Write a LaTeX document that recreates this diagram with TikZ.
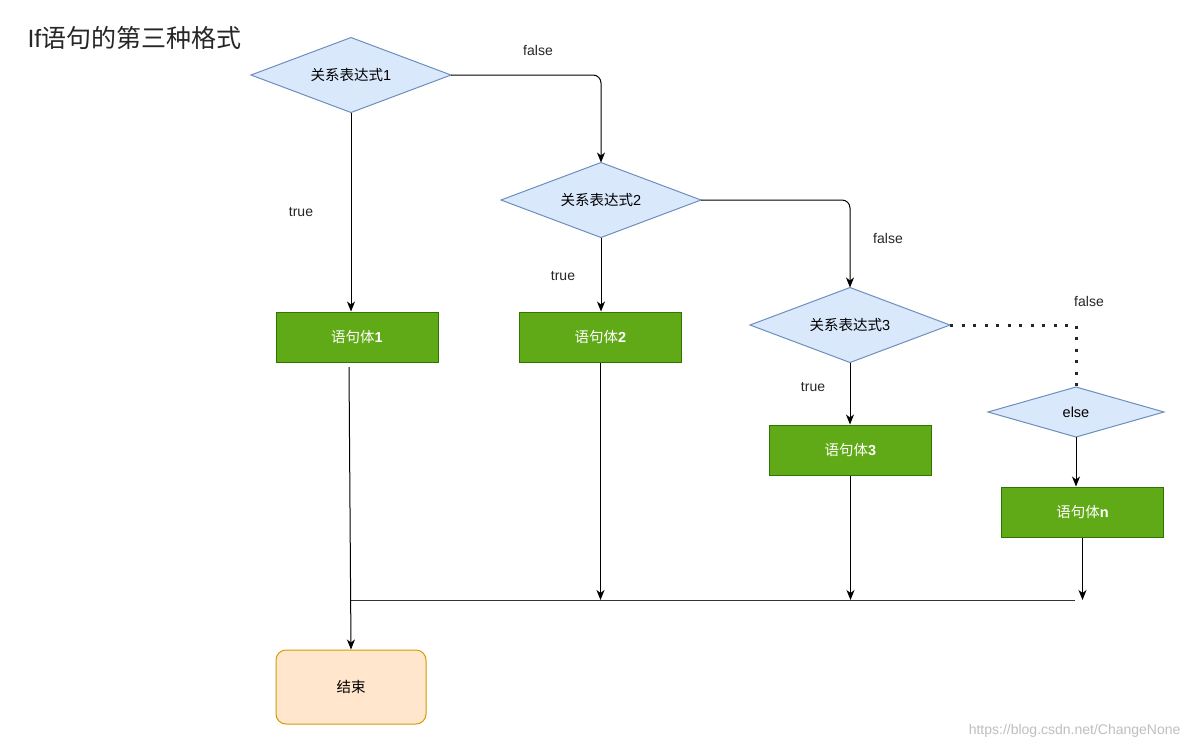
\documentclass[tikz,border=0pt]{standalone}
\usepackage{fontspec}
\setmainfont{Liberation Sans}
\newfontfamily\cjk{Noto Sans CJK SC}
\usetikzlibrary{shapes.geometric,arrows.meta}
\definecolor{dfill}{HTML}{DAE8FC}
\definecolor{ddraw}{HTML}{6C8EBF}
\definecolor{gfill}{HTML}{60A917}
\definecolor{gdraw}{HTML}{2D7600}
\definecolor{efill}{HTML}{FFE6CC}
\definecolor{edraw}{HTML}{D79B00}
\tikzset{
  dec/.style={diamond, draw=ddraw, fill=dfill, line width=1pt, inner sep=0pt, outer sep=0pt,
    shape aspect=2.667, minimum width=200pt, minimum height=75pt, font=\fontsize{14.5}{16}\selectfont},
  stmt/.style={rectangle, draw=gdraw, fill=gfill, line width=1pt, text=white,
    minimum width=162pt, minimum height=50pt, font=\fontsize{14.5}{16}\selectfont},
  endbox/.style={rectangle, rounded corners=10pt, draw=edraw, fill=efill, line width=1pt,
    minimum width=150pt, minimum height=74pt, font=\fontsize{14.5}{16}\selectfont},
  lbl/.style={font=\fontsize{14}{16}\selectfont, text=black!85},
  arr/.style={-{Stealth[length=10pt,width=8pt,inset=3pt]}, line width=1pt, black},
  ln/.style={line width=1pt, black!80},
}
\begin{document}
\begin{tikzpicture}[x=1pt,y=-1pt]
\useasboundingbox (0,0) rectangle (1194,748);
\fill[white] (0,0) rectangle (1194,748);

\node[anchor=west, font=\fontsize{25}{28}\selectfont, text=black!85] (title) at (24,38) {If{\cjk 语句的第三种格式}};

\node[dec] (d1) at (351,75) {{\cjk 关系表达式}1};
\node[dec] (d2) at (601,200) {{\cjk 关系表达式}2};
\node[dec] (d3) at (850,325) {{\cjk 关系表达式}3};
\node[dec, shape aspect=3.52, minimum width=176pt, minimum height=50pt] (d4) at (1076,412) {else};

\node[stmt] (s1) at (357,337) {{\cjk 语句体}\textbf{1}};
\node[stmt] (s2) at (600.5,337) {{\cjk 语句体}\textbf{2}};
\node[stmt] (s3) at (850.5,450) {{\cjk 语句体}\textbf{3}};
\node[stmt] (sn) at (1082.5,512) {{\cjk 语句体}\textbf{n}};

\node[endbox] (end) at (351,687) {\cjk 结束};

\coordinate (s1b) at (349,367);
\coordinate (jl) at (351,600);
\coordinate (jr) at (1075,600);
\coordinate (c1) at (601,75);
\coordinate (c2) at (850,200);
\coordinate (c3) at (1076,325);

% edges
\draw[arr] (d1.south) -- (d1.south |- s1.north);
\draw[arr, rounded corners=8pt] (d1.east) -- (c1) -- (d2.north);
\draw[arr] (d2.south) -- (d2.south |- s2.north);
\draw[arr, rounded corners=8pt] (d2.east) -- (c2) -- (d3.north);
\draw[arr] (d3.south) -- (d3.south |- s3.north);
\draw[line width=3pt, dash pattern=on 3pt off 8.5pt, black!85] (d3.east) -- (c3) -- (d4.north);
\draw[arr] (d4.south) -- (d4.south |- sn.north);

\draw[ln] (jl) -- (jr);
\draw[arr] (s1b) -- (end.north);
\draw[arr] (s2.south) -- (s2.south |- jl);
\draw[arr] (s3.south) -- (s3.south |- jl);
\draw[arr] (sn.south) -- (sn.south |- jl);

% labels
\node[lbl] (f1) at (538,50) {false};
\node[lbl] (t1) at (301,212) {true};
\node[lbl] (t2) at (563,276) {true};
\node[lbl] (f2) at (888,238) {false};
\node[lbl] (f3) at (1089,301) {false};
\node[lbl] (t3) at (813,387) {true};

\node[anchor=east, font=\fontsize{14}{16}\selectfont, text=black!25] (wm) at (1184,731) {https://blog.csdn.net/ChangeNone};
\end{tikzpicture}
\end{document}
